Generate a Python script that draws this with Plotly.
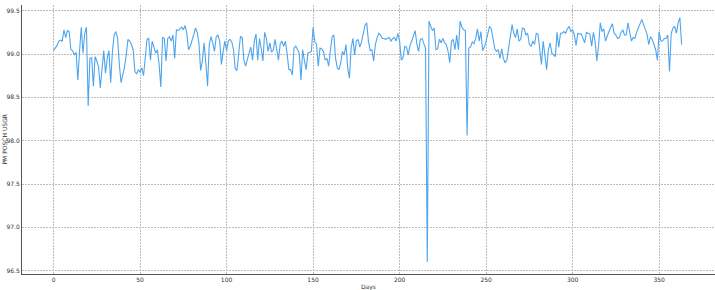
import plotly.graph_objects as go

days_0_70 = [99.04, 99.07, 99.10, 99.15, 99.16, 99.15, 99.28, 99.19, 99.27, 99.26,
             99.05, 99.04, 98.99, 99.02, 98.70, 99.03, 99.31, 99.01, 99.24, 99.31,
             98.40, 98.95, 98.96, 98.63, 98.97, 98.92, 98.85, 98.61, 98.86, 99.04,
             98.78, 98.95, 99.04, 98.67, 99.03, 99.22, 99.26, 99.18, 98.88, 98.67,
             98.76, 98.85, 98.99, 99.17, 99.15, 99.11, 99.05, 98.80, 98.77, 98.82,
             98.79, 98.84, 98.75, 98.99, 99.17, 99.18, 98.93, 99.15, 99.08, 99.01,
             99.05, 98.88, 98.62, 99.19, 99.18, 98.92, 99.18, 99.20, 99.15, 99.22,
             98.95]
days_71_143 = [99.28, 99.27, 99.29, 99.31, 99.28, 99.33, 99.24, 99.05, 99.09, 99.15,
               99.22, 99.30, 99.25, 99.13, 98.81, 98.92, 99.13, 98.90, 98.63, 99.11,
               99.20, 99.13, 99.03, 99.20, 99.22, 99.15, 98.88, 99.03, 99.15, 99.04,
               99.15, 99.17, 99.14, 99.05, 98.83, 98.81, 99.03, 99.20, 99.19, 98.93,
               98.86, 98.95, 99.01, 99.08, 98.93, 99.15, 99.23, 98.93, 99.18, 99.07,
               98.92, 99.25, 99.18, 99.03, 99.13, 99.02, 99.05, 99.17, 99.03, 98.93,
               99.12, 99.15, 99.09, 99.15, 99.00, 98.82, 98.82, 98.76, 99.07, 99.09,
               99.05, 99.01, 98.70]
days_144_216 = [99.05, 98.92, 98.82, 99.01, 99.02, 99.03, 99.31, 99.14, 99.11, 98.86,
                99.07, 99.06, 99.03, 98.93, 98.95, 98.86, 99.04, 99.20, 99.22, 98.95,
                98.84, 98.82, 98.90, 99.03, 98.99, 99.11, 98.84, 98.72, 99.07, 99.18,
                98.99, 99.15, 99.17, 99.08, 99.14, 99.22, 99.33, 99.36, 99.15, 99.04,
                99.05, 98.92, 99.11, 99.19, 99.24, 99.22, 99.18, 99.18, 99.17, 99.18,
                99.19, 99.15, 99.18, 99.19, 99.15, 99.24, 99.15, 98.93, 98.96, 99.09,
                99.08, 98.99, 99.10, 99.15, 99.20, 99.27, 99.11, 99.03, 99.17, 99.18,
                99.12, 99.07, 96.60]
days_217_288 = [99.38, 99.32, 99.27, 99.30, 99.05, 99.06, 99.17, 99.13, 99.18, 99.13,
                99.11, 99.03, 98.90, 99.15, 99.17, 99.05, 99.22, 99.05, 99.38, 99.31,
                99.28, 99.27, 98.06, 99.07, 99.08, 99.14, 99.12, 99.18, 99.29, 99.15,
                99.26, 99.04, 99.08, 99.15, 99.24, 99.32, 99.29, 99.18, 99.06, 99.03,
                99.05, 98.95, 99.06, 98.95, 98.90, 98.93, 99.05, 99.20, 99.34, 99.24,
                99.19, 99.29, 99.15, 99.17, 99.30, 99.29, 99.22, 99.24, 99.11, 99.09,
                99.15, 99.11, 99.24, 99.23, 99.07, 98.88, 99.15, 98.99, 98.82, 99.05,
                99.13, 99.01]
days_289_363 = [98.99, 98.97, 99.25, 99.08, 99.24, 99.24, 99.26, 99.24, 99.29, 99.32,
                99.26, 99.28, 99.22, 99.10, 99.24, 99.23, 99.23, 99.17, 99.13, 99.25,
                99.24, 99.23, 99.09, 99.25, 99.15, 98.92, 99.10, 99.36, 99.26, 99.29,
                99.15, 99.22, 99.26, 99.31, 99.35, 99.24, 99.22, 99.18, 99.19, 99.25,
                99.28, 99.22, 99.22, 99.36, 99.26, 99.15, 99.19, 99.18, 99.25, 99.30,
                99.36, 99.40, 99.34, 99.28, 99.23, 99.11, 99.20, 99.17, 99.11, 99.05,
                98.93, 99.26, 99.15, 99.15, 99.18, 99.18, 99.22, 98.80, 99.24, 99.30,
                99.32, 99.24, 99.36, 99.42, 99.11]

values = days_0_70 + days_71_143 + days_144_216 + days_217_288 + days_289_363
days = list(range(len(values)))

x_ticks = [0, 50, 100, 150, 200, 250, 300, 350]
y_ticks = [96.5, 97.0, 97.5, 98.0, 98.5, 99.0, 99.5]

fig = go.Figure()
fig.add_trace(go.Scatter(x=days, y=values, mode="lines",
                         line=dict(color="#4ea5ee", width=1.1), showlegend=False))

axis_font = dict(family="DejaVu Sans", size=6, color="#333333")
grid_style = dict(showgrid=True, gridcolor="#bdbdbd", griddash="2px,1px", gridwidth=1,
                  zeroline=False, showline=True, linecolor="#555555", linewidth=1,
                  ticks="", tickfont=axis_font, automargin=False)
fig.update_layout(
    width=715, height=290,
    margin=dict(l=22, r=0, t=5, b=16),
    paper_bgcolor="white", plot_bgcolor="white",
    xaxis=dict(range=[-18.25, 382.3], tickvals=x_ticks,
               ticktext=[str(v) for v in x_ticks], **grid_style),
    yaxis=dict(range=[96.462, 99.566], tickvals=y_ticks,
               ticktext=[f"{v:.1f}" for v in y_ticks], **grid_style),
    annotations=[
        dict(text="Days", xref="paper", yref="paper", x=0.5, y=0,
             yshift=-13, xanchor="center", yanchor="middle", showarrow=False,
             font=dict(family="DejaVu Sans", size=6, color="#333333")),
        dict(text="PM POSCH USGR", xref="paper", yref="paper", x=0, y=0.5,
             xshift=-18, xanchor="center", yanchor="middle", showarrow=False,
             textangle=-90,
             font=dict(family="DejaVu Sans", size=6, color="#333333")),
    ],
)

fig.write_html("out.html")
